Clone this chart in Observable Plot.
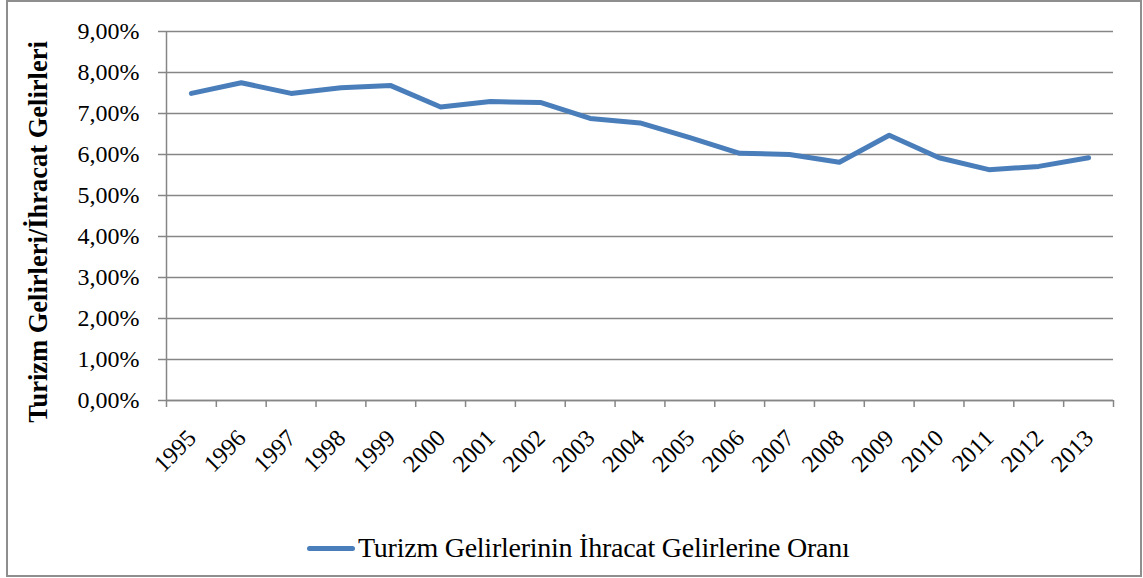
<!DOCTYPE html>
<html>
<head>
<meta charset="utf-8">
<script src="https://cdn.jsdelivr.net/npm/d3@7"></script>
<script src="https://cdn.jsdelivr.net/npm/@observablehq/plot@0.6"></script>
<style>
  html, body { margin: 0; padding: 0; background: #fff; }
  #wrap { position: relative; width: 1143px; height: 578px; font-family: "Liberation Serif", "Times New Roman", serif; }
  #frame { position: absolute; left: 6px; top: 0px; width: 1136px; height: 577px; box-sizing: border-box; border: 2px solid #8e8e8e; pointer-events: none; }
  #chart { position: absolute; left: 0; top: 0; }
  #legend { position: absolute; left: 307px; top: 532px; display: flex; align-items: center; font-size: 28px; letter-spacing: -0.25px; color: #000; white-space: nowrap; }
  #legend .sw { width: 48px; height: 5px; border-radius: 3px; background: #4a7ebb; margin-right: 3px; }
</style>
</head>
<body>
<div id="wrap">
  <div id="chart"></div>
  <div id="legend"><span class="sw"></span><span id="legtext"></span></div>
  <div id="frame"></div>
</div>
<script>
const years = [1995,1996,1997,1998,1999,2000,2001,2002,2003,2004,2005,2006,2007,2008,2009,2010,2011,2012,2013];
const ratios = [0.0749,0.0775,0.0749,0.0763,0.0768,0.0716,0.0729,0.0727,0.0688,0.0677,0.0641,0.0603,0.0600,0.0581,0.0647,0.0592,0.0563,0.0571,0.0592];
const yTicks = [0,0.01,0.02,0.03,0.04,0.05,0.06,0.07,0.08,0.09];
const seriesName = "Turizm Gelirlerinin İhracat Gelirlerine Oranı";
const yTitle = "Turizm Gelirleri/İhracat Gelirleri";

const data = years.map((y, i) => ({year: y, value: ratios[i]}));
const xDomain = [years[0] - 0.5, years[years.length - 1] + 0.5];
const bounds = d3.range(xDomain[0], xDomain[1] + 0.01, 1);

const grey = "#868686";
const fmt = d => (d * 100).toFixed(2).replace(".", ",") + "%";
const serif = "'Liberation Serif', 'Times New Roman', serif";

const chart = Plot.plot({
  width: 1143,
  height: 520,
  marginLeft: 166,
  marginRight: 30,
  marginTop: 31,
  marginBottom: 120,
  style: {fontFamily: serif, color: "#000", background: "transparent", overflow: "visible"},
  x: {domain: xDomain},
  y: {domain: [0, 0.09]},
  marks: [
    Plot.gridY(yTicks, {stroke: grey, strokeOpacity: 1, strokeWidth: 1.5}),
    Plot.ruleX([xDomain[0]], {stroke: grey, strokeWidth: 1.5}),
    Plot.ruleY([0], {stroke: grey, strokeWidth: 1.5}),
    Plot.axisY(yTicks, {tickSize: 8, tickPadding: 19, stroke: grey, strokeWidth: 1.5, fill: "#000", fontSize: 24, fontFamily: serif, tickFormat: fmt, label: null}),
    Plot.axisX(bounds, {tickSize: 7, stroke: grey, strokeWidth: 1.5, tickFormat: () => "", label: null}),
    Plot.axisX(years, {tickSize: 0, tickPadding: 27, rotate: -45, textAnchor: "end", fill: "#000", fontSize: 24, fontFamily: serif, dx: -6, tickFormat: d => String(d), label: null}),
    Plot.text([yTitle], {frameAnchor: "left", dx: -128, dy: 16, rotate: -90, fontSize: 26.5, fontWeight: "bold", fontFamily: serif, fill: "#000", textAnchor: "middle"}),
    Plot.line(data, {x: "year", y: "value", stroke: "#4a7ebb", strokeWidth: 5, strokeLinecap: "round", strokeLinejoin: "round"})
  ]
});
document.getElementById("chart").appendChild(chart);
document.getElementById("legtext").textContent = seriesName;
</script>
</body>
</html>
